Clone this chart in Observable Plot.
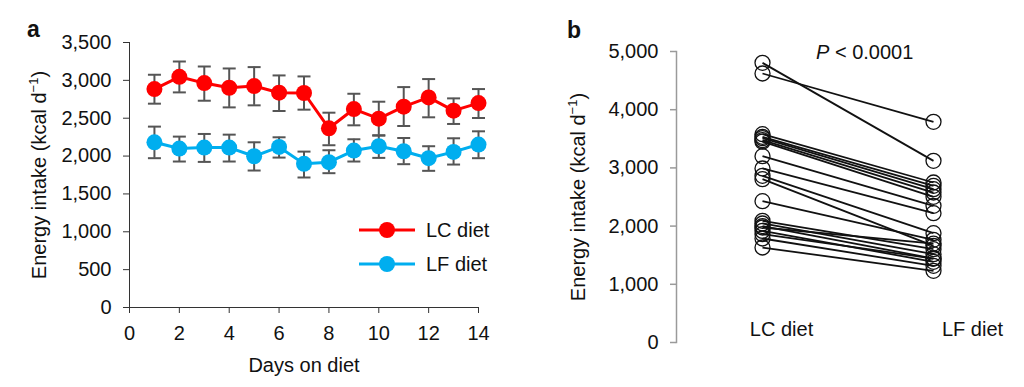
<!DOCTYPE html>
<html>
<head>
<meta charset="utf-8">
<script src="https://cdn.jsdelivr.net/npm/d3@7"></script>
<script src="https://cdn.jsdelivr.net/npm/@observablehq/plot@0.6"></script>
<style>
  html, body { margin: 0; padding: 0; background: #fff; }
  body { font-family: "Liberation Sans", Arial, sans-serif; }
  #wrap { position: relative; width: 1024px; height: 387px; display: flex; }
  #wrap svg { display: block; overflow: visible; }
  .ov { position: absolute; color: #111; white-space: nowrap; font-family: "Liberation Sans", Arial, sans-serif; }
  .lab { font-weight: 700; font-size: 23px; line-height: 23px; }
  .leg { position: absolute; left: 359px; font-size: 20px; line-height: 20px; display: flex; align-items: center; }
  .leg svg { margin-right: 11px; }
</style>
</head>
<body>
<div id="wrap">
  <div id="pa"></div>
  <div id="pb"></div>
  <div class="ov lab" style="left:27px; top:18px;">a</div>
  <div class="ov lab" style="left:567px; top:19px;">b</div>
  <div class="ov" style="left:816px; top:42px; font-size:20px; line-height:20px;"><i>P</i> &lt; 0.0001</div>
  <div class="ov leg" style="top:220px;"><svg width="56" height="20"><line x1="0" x2="56" y1="10" y2="10" stroke="#ff0000" stroke-width="3"/><circle cx="28" cy="10" r="8" fill="#ff0000"/></svg>LC diet</div>
  <div class="ov leg" style="top:254px;"><svg width="56" height="20"><line x1="0" x2="56" y1="10" y2="10" stroke="#00aeef" stroke-width="3"/><circle cx="28" cy="10" r="8" fill="#00aeef"/></svg>LF diet</div>
</div>
<script>
// ---- Panel a data: daily energy intake (mean ± s.e.m.)
const days   = [1, 2, 3, 4, 5, 6, 7, 8, 9, 10, 11, 12, 13, 14];
const lcMean = [2885, 3047, 2964, 2902, 2925, 2837, 2833, 2367, 2621, 2494, 2652, 2775, 2600, 2700];
const lcLo   = [2692, 2841, 2731, 2643, 2670, 2595, 2613, 2143, 2406, 2275, 2397, 2512, 2424, 2503];
const lcHi   = [3074, 3249, 3183, 3157, 3175, 3065, 3052, 2573, 2823, 2718, 2911, 3017, 2762, 2885];
const lfMean = [2182, 2099, 2112, 2112, 1998, 2121, 1897, 1919, 2073, 2130, 2064, 1972, 2055, 2152];
const lfLo   = [1972, 1928, 1923, 1928, 1809, 1980, 1717, 1774, 1928, 1976, 1893, 1805, 1888, 1972];
const lfHi   = [2389, 2257, 2292, 2283, 2182, 2248, 2059, 2077, 2222, 2270, 2239, 2130, 2235, 2327];
const xTicksA = [0, 2, 4, 6, 8, 10, 12, 14];
const yTicksA = [0, 500, 1000, 1500, 2000, 2500, 3000, 3500];

// ---- Panel b data: per-participant mean intake
const dietCats = ["LC diet", "LF diet"];
const lcIntake = [4805, 4622, 3580, 3534, 3511, 3477, 3450, 3202, 2990, 2864, 2806, 2428, 2090, 2045, 2000, 1976, 1918, 1861, 1787, 1632];
const lfIntake = [3121, 3792, 2749, 2692, 2635, 2577, 2503, 2348, 2222, 1878, 1661, 1764, 1604, 1518, 1443, 1700, 1386, 1443, 1317, 1231];
const yTicksB = [0, 1000, 2000, 3000, 4000, 5000];

const FONT = '"Liberation Sans", Arial, sans-serif';
const fmt = d3.format(",");
const RED = "#ff0000", BLUE = "#00aeef", BAR = "#555555";

const series = [
  {name: "LC diet", color: RED, mean: lcMean, lo: lcLo, hi: lcHi},
  {name: "LF diet", color: BLUE, mean: lfMean, lo: lfLo, hi: lfHi}
];
const rows = series.flatMap(s => days.map((d, i) => ({day: d, diet: s.name, color: s.color, mean: s.mean[i], lo: s.lo[i], hi: s.hi[i]})));

const capSymbol = { draw(ctx) { ctx.moveTo(-6.5, 0); ctx.lineTo(6.5, 0); } };

const marksA = [
  Plot.frame({anchor: "left", stroke: "#333"}),
  Plot.frame({anchor: "bottom", stroke: "#333"}),
  Plot.axisY({ticks: yTicksA, tickFormat: fmt, tickSize: 6, tickPadding: 12, fontSize: 20, label: null, stroke: "#333", fill: "#111"}),
  Plot.axisX({ticks: xTicksA, tickSize: 6, tickPadding: 12, fontSize: 20, label: null, stroke: "#333", fill: "#111"}),
  Plot.ruleX(rows, {x: "day", y1: "lo", y2: "hi", stroke: BAR, strokeWidth: 2}),
  Plot.dot(rows, {x: "day", y: "hi", symbol: capSymbol, stroke: BAR, strokeWidth: 2, fill: "none"}),
  Plot.dot(rows, {x: "day", y: "lo", symbol: capSymbol, stroke: BAR, strokeWidth: 2, fill: "none"}),
  Plot.line(rows, {x: "day", y: "mean", z: "diet", stroke: "color", strokeWidth: 3}),
  Plot.dot(rows, {x: "day", y: "mean", fill: "color", r: 8}),
  Plot.text(["Energy intake (kcal d^-1)"], {frameAnchor: "left", textAnchor: "middle", rotate: -90, dx: -90, fontSize: 20, fill: "#111", lineAnchor: "middle"}),
  Plot.text(["Days on diet"], {frameAnchor: "bottom", dy: 58, fontSize: 20, fill: "#111", lineAnchor: "middle"})
];

const plotA = Plot.plot({
  width: 520, height: 387,
  marginLeft: 129, marginRight: 42, marginTop: 42, marginBottom: 80,
  style: {fontFamily: FONT, background: "transparent"},
  x: {domain: [0, 14], axis: null},
  y: {domain: [0, 3500], axis: null},
  marks: marksA
});
document.getElementById("pa").appendChild(plotA);

const pairs = lcIntake.map((v, i) => ({lc: v, lf: lfIntake[i]}));
const pts = pairs.flatMap(p => [{diet: "LC diet", v: p.lc}, {diet: "LF diet", v: p.lf}]);

const plotB = Plot.plot({
  width: 504, height: 387,
  marginLeft: 156, marginRight: 5, marginTop: 51, marginBottom: 45,
  style: {fontFamily: FONT, background: "transparent"},
  x: {type: "point", domain: dietCats, padding: 0.5, axis: null},
  y: {domain: [0, 5000], axis: null},
  marks: [
    Plot.frame({anchor: "left", stroke: "#9a9a9a", strokeWidth: 1.5}),
    Plot.axisY({ticks: yTicksB, tickFormat: fmt, tickSize: 6, tickPadding: 12, fontSize: 20, label: null, stroke: "#9a9a9a", strokeWidth: 1.5, fill: "#111"}),
    Plot.link(pairs, {x1: () => "LC diet", x2: () => "LF diet", y1: "lc", y2: "lf", stroke: "#111", strokeWidth: 1.8}),
    Plot.dot(pts, {x: "diet", y: "v", r: 7.5, stroke: "#111", strokeWidth: 1.3, fill: "none"}),
    Plot.text(["LC diet"], {x: d => d, frameAnchor: "bottom", dy: -13, dx: 19, fontSize: 20, fill: "#111", lineAnchor: "middle"}),
    Plot.text(["LF diet"], {x: d => d, frameAnchor: "bottom", dy: -13, dx: 39, fontSize: 20, fill: "#111", lineAnchor: "middle"}),
    Plot.text(["Energy intake (kcal d^-1)"], {frameAnchor: "left", textAnchor: "middle", rotate: -90, dx: -98, fontSize: 20, fill: "#111", lineAnchor: "middle"})
  ]
});
document.getElementById("pb").appendChild(plotB);

// superscript "−1" in the axis titles
d3.selectAll("text").each(function() {
  const t = d3.select(this);
  if (t.text() === "Energy intake (kcal d^-1)") {
    t.text(null);
    t.append("tspan").text("Energy intake (kcal d");
    t.append("tspan").attr("dy", "-8").attr("font-size", "13").text("\u22121");
    t.append("tspan").attr("dy", "8").text(")");
  }
});
</script>
</body>
</html>
